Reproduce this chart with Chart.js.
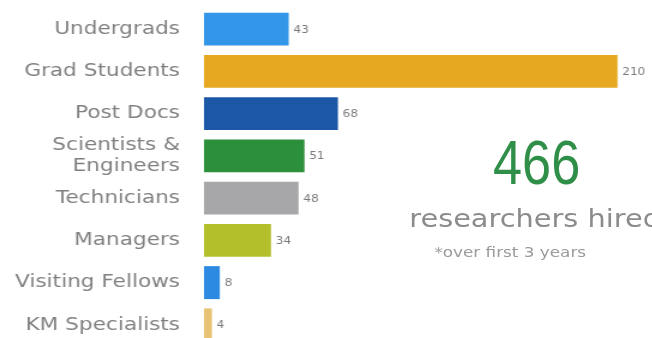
<!DOCTYPE html>
<html>
<head>
<meta charset="utf-8">
<script src="https://cdn.jsdelivr.net/npm/chart.js@4/dist/chart.umd.min.js"></script>
<style>
  html, body { margin: 0; padding: 0; background: #ffffff; overflow: hidden; }
  #stage { position: relative; width: 652px; height: 338px; overflow: hidden; }
  #wrap { position: absolute; left: 0; top: 0; width: 543px; height: 352px; transform: scaleX(1.2); transform-origin: 0 0; }
  #wrap canvas { display: block; }
  .txt { position: absolute; white-space: nowrap; font-family: "DejaVu Sans", Verdana, sans-serif; }
  #big { position: absolute; left: 493px; top: 131px; font-family: "Liberation Sans", sans-serif; font-size: 63px; line-height: 63px; color: #2f8f48; white-space: nowrap; transform: scaleX(0.83); transform-origin: 0 0; }
</style>
</head>
<body>
<div id="stage">
  <div id="wrap">
    <canvas id="c" width="543" height="352"></canvas>
    <div class="txt" id="sub1" style="left:341px; top:205px; font-size:24px; line-height:28px; color:#8c8c8c;">researchers hired</div>
    <div class="txt" id="sub2" style="left:362px; top:244px; font-size:14px; line-height:17px; color:#9a9a9a;">*over first 3 years</div>
  </div>
  <div id="big">466</div>
</div>
<script>
const categories = ["Undergrads", "Grad Students", "Post Docs", ["Scientists &", "Engineers"], "Technicians", "Managers", "Visiting Fellows", "KM Specialists"];
const values = [43, 210, 68, 51, 48, 34, 8, 4];
const barColors = ["#3396e8", "#e6a820", "#1c56a6", "#2b8f3b", "#a7a7a9", "#b3c02b", "#2d8ae2", "#e8c374"];

const valueLabels = {
  id: "valueLabels",
  afterDatasetsDraw(chart) {
    const ctx = chart.ctx;
    const meta = chart.getDatasetMeta(0);
    ctx.save();
    ctx.font = "10px 'DejaVu Sans', sans-serif";
    ctx.fillStyle = "#7a7a7a";
    ctx.textAlign = "left";
    ctx.textBaseline = "middle";
    meta.data.forEach((bar, i) => {
      ctx.fillText(String(values[i]), bar.x + 4, bar.y + 1);
    });
    ctx.restore();
  }
};

new Chart(document.getElementById("c"), {
  type: "bar",
  data: {
    labels: categories,
    datasets: [{
      data: values,
      backgroundColor: barColors,
      borderWidth: 0,
      categoryPercentage: 0.8,
      barPercentage: 0.975
    }]
  },
  options: {
    indexAxis: "y",
    responsive: false,
    animation: false,
    layout: { padding: { top: 8, bottom: 6, left: 0, right: 12 } },
    plugins: { legend: { display: false }, tooltip: { enabled: false } },
    scales: {
      x: { display: false, min: 0, max: 220 },
      y: {
        grid: { display: false, drawTicks: false },
        border: { display: false },
        ticks: {
          autoSkip: false,
          color: "#808080",
          padding: 20,
          font: { family: "'DejaVu Sans', Verdana, sans-serif", size: 18, lineHeight: 1.2 }
        },
        afterFit(scale) {
          scale.width = 170;
          scale.paddingTop = 0;
          scale.paddingBottom = 0;
        }
      }
    }
  },
  plugins: [valueLabels]
});
</script>
</body>
</html>
